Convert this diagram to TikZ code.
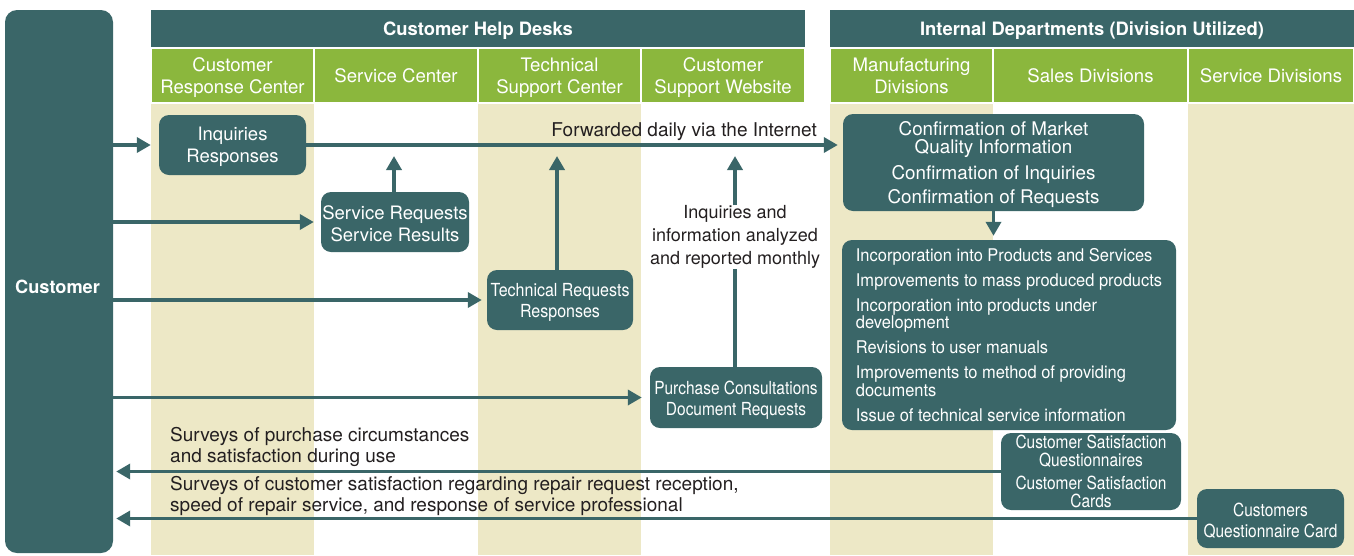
\documentclass[tikz,border=0pt]{standalone}
\usepackage{fontspec}
\setmainfont{TeX Gyre Heros}
\newfontfamily\cnd{TeX Gyre Heros}[FakeStretch=0.86]
\newfontfamily\cndb{TeX Gyre Heros}[FakeStretch=0.89]
\newfontfamily\cndc{TeX Gyre Heros}[FakeStretch=0.94]
\usetikzlibrary{arrows.meta}
\definecolor{tealdk}{HTML}{3A6668}
\definecolor{grn}{HTML}{8BB73D}
\definecolor{beige}{HTML}{EDE8C6}
\definecolor{txtdk}{HTML}{231F20}
\newcommand\tup{\rule{0pt}{0.96em}}
\newcommand\dn[1]{\raisebox{-2pt}[\height][\depth]{#1}}
\begin{document}
\begin{tikzpicture}[x=1pt,y=-1pt,
  hdr/.style={fill=tealdk,text=white,inner sep=0pt,minimum height=37pt,font=\bfseries\fontsize{18.4}{22}\selectfont},
  cell/.style={fill=grn,draw=white,line width=1.5pt,text=white,inner sep=0pt,minimum height=55pt,align=center,font=\fontsize{18.6}{22}\selectfont},
  box/.style={fill=tealdk,rounded corners=10pt,text=white,inner sep=0pt,align=center,font=\fontsize{18.5}{22}\selectfont},
  lbl/.style={text=txtdk,inner sep=0pt,font=\fontsize{19}{21}\selectfont},
  arr/.style={draw=tealdk,line width=3.5pt,-{Triangle[length=14pt,width=15pt]}},
  ln/.style={draw=tealdk,line width=3.5pt}]
\useasboundingbox (0,0) rectangle (1354,555);
% beige columns
\fill[beige] (151,103) rectangle (314,555);
\fill[beige] (478,103) rectangle (641,555);
\fill[beige] (830,103) rectangle (993,555);
\fill[beige] (1188,103) rectangle (1354,555);
% headers
\node[hdr,minimum width=654pt] (hd1) at (478,28.5) {\dn{Customer Help Desks}};
\node[hdr,minimum width=524pt] (hd2) at (1092,28.5) {\dn{Internal Departments (Division Utilized)}};
\node[cell,minimum width=163pt] (c1) at (232.5,75.5) {\tup Customer\\Response Center};
\node[cell,minimum width=164pt] (c2) at (396,75.5) {Service Center};
\node[cell,minimum width=163pt] (c3) at (559.5,75.5) {\tup Technical\\Support Center};
\node[cell,minimum width=164pt] (c4) at (723,75.5) {\tup Customer\\Support Website};
\node[cell,minimum width=163pt] (c5) at (911.5,75.5) {Manufacturing\\Divisions};
\node[cell,minimum width=195pt] (c6) at (1090.5,75.5) {Sales Divisions};
\node[cell,minimum width=166pt] (c7) at (1271,75.5) {Service Divisions};
% customer
\node[box,minimum width=108pt,minimum height=543pt,rounded corners=12pt,font=\bfseries\fontsize{18.2}{22}\selectfont] (cust) at (59,281.5) {\raisebox{-5pt}[13pt][0pt]{\hspace*{-3pt}Customer}};
% boxes
\node[box,minimum width=147pt,minimum height=60pt] (inq) at (232.5,145) {\tup Inquiries\\Responses};
\node[box,minimum width=148pt,minimum height=60pt] (svc) at (395,222) {\tup Service Requests\\Service Results};
\node[box,minimum width=146pt,minimum height=60pt,font=\cndb\fontsize{18}{21}\selectfont] (tech) at (560,300) {\rule{0pt}{1.02em}Technical Requests\\Responses};
\node[box,minimum width=172pt,minimum height=61pt,font=\cnd\fontsize{18}{21}\selectfont] (purch) at (736,397.5) {\rule{0pt}{1.02em}Purchase Consultations\\Document Requests};
\node[box,minimum width=301pt,minimum height=97pt,font=\fontsize{18.8}{18}\selectfont] (conf) at (993.5,162.5) {\tup Confirmation of Market\\Quality Information\\[7pt]Confirmation of Inquiries\\[5.5pt]Confirmation of Requests};
\node[box,align=left,minimum width=334pt,minimum height=190pt,font=\cndc\fontsize{17.5}{17.5}\selectfont] (inc) at (1009,335) {Incorporation into Products and Services\\[7pt]Improvements to mass produced products\\[7.5pt]Incorporation into products under\\development\\[7.5pt]Revisions to user manuals\\[7.5pt]Improvements to method of providing\\documents\\[7.5pt]Issue of technical service information};
\node[box,minimum width=180pt,minimum height=77pt,font=\cnd\fontsize{18}{18.3}\selectfont] (csat) at (1091,471.5) {Customer Satisfaction\\Questionnaires\\[4pt]Customer Satisfaction\\Cards};
\node[box,minimum width=147pt,minimum height=59pt,font=\cnd\fontsize{18}{21}\selectfont] (cqc) at (1270.5,518.5) {\tup Customers\\Questionnaire Card};
% labels
\node[lbl,anchor=base east] (fwd) at (817,136) {Forwarded daily via the Internet};
\node[lbl,align=center,font=\fontsize{18}{23}\selectfont] (mon) at (735,237) {Inquiries and\\information analyzed\\and reported monthly};
\node[lbl,align=left,anchor=west] (sv1) at (170,447) {Surveys of purchase circumstances\\and satisfaction during use};
\node[lbl,align=left,anchor=west] (sv2) at (170,496) {Surveys of customer satisfaction regarding repair request reception,\\speed of repair service, and response of service professional};
% coordinates for arrow tips
\coordinate (t1) at (394,156);
\coordinate (t2) at (557,156);
\coordinate (t3) at (735,156);
% arrows
\draw[arr,shorten >=8pt] (cust.east |- inq.west) -- (inq.west);
\draw[arr,shorten >=5pt] (inq.east) -- (inq.east -| conf.west);
\draw[arr,shorten >=7pt] (cust.east |- svc.west) -- (svc.west);
\draw[arr,shorten >=5pt] (cust.east |- tech.west) -- (tech.west);
\draw[arr,shorten >=8pt] (cust.east |- purch.west) -- (purch.west);
\draw[arr] (svc.north -| t1) -- (t1);
\draw[arr] (tech.north -| t2) -- (t2);
\draw[ln] (purch.north -| t3) -- (mon.south -| t3);
\draw[arr] (mon.north -| t3) -- (t3);
\draw[arr,shorten >=4pt] (conf.south) -- (conf.south |- inc.north);
\draw[arr,shorten >=3pt] (csat.west) -- (csat.west -| cust.east);
\draw[arr,shorten >=3pt] (cqc.west) -- (cqc.west -| cust.east);
\end{tikzpicture}
\end{document}
